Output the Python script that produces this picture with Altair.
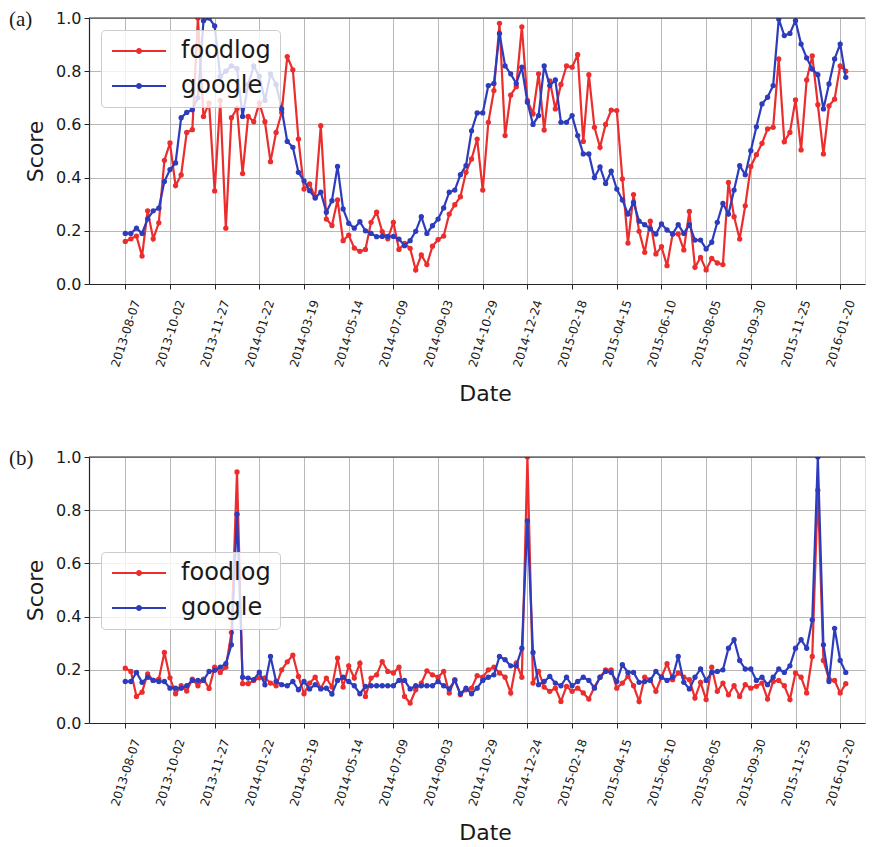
import json
import altair as alt
import pandas as pd

START = "2013-08-07"
SERIES = ["foodlog", "google"]
COLORS = ["#eb2d2d", "#2d3cbc"]
TICK_LABELS = ["2013-08-07", "2013-10-02", "2013-11-27", "2014-01-22", "2014-03-19",
               "2014-05-14", "2014-07-09", "2014-09-03", "2014-10-29", "2014-12-24",
               "2015-02-18", "2015-04-15", "2015-06-10", "2015-08-05", "2015-09-30",
               "2015-11-25", "2016-01-20"]
Y_TICKS = [0.0, 0.2, 0.4, 0.6, 0.8, 1.0]

FOODLOG_A = [0.16, 0.17, 0.18, 0.105, 0.275, 0.17, 0.23, 0.465, 0.53, 0.37,
             0.41, 0.57, 0.58, 1.0, 0.63, 0.68, 0.35, 0.69, 0.21, 0.625,
             0.66, 0.415, 0.63, 0.61, 0.68, 0.61, 0.46, 0.57, 0.645, 0.855,
             0.805, 0.545, 0.357, 0.376, 0.326, 0.595, 0.244, 0.22, 0.316, 0.163,
             0.184, 0.135, 0.123, 0.13, 0.232, 0.27, 0.197, 0.17, 0.232, 0.13,
             0.153, 0.134, 0.053, 0.109, 0.073, 0.142, 0.167, 0.18, 0.263, 0.298,
             0.328, 0.42, 0.47, 0.545, 0.353, 0.608, 0.727, 0.98, 0.558, 0.71,
             0.742, 0.967, 0.69, 0.64, 0.79, 0.579, 0.764, 0.658, 0.75, 0.82,
             0.815, 0.862, 0.536, 0.787, 0.589, 0.514, 0.6, 0.654, 0.652, 0.395,
             0.154, 0.336, 0.198, 0.119, 0.236, 0.113, 0.14, 0.069, 0.188, 0.188,
             0.128, 0.273, 0.063, 0.1, 0.053, 0.096, 0.079, 0.073, 0.382, 0.253,
             0.169, 0.294, 0.442, 0.486, 0.529, 0.583, 0.589, 0.846, 0.535, 0.57,
             0.692, 0.504, 0.767, 0.858, 0.674, 0.489, 0.67, 0.695, 0.82, 0.8]

GOOGLE_A = [0.19, 0.19, 0.21, 0.19, 0.245, 0.275, 0.285, 0.385, 0.43, 0.455,
            0.625, 0.645, 0.655, 0.70, 0.99, 1.0, 0.97, 0.78, 0.80, 0.82,
            0.81, 0.63, 0.75, 0.82, 0.78, 0.69, 0.79, 0.75, 0.658, 0.536,
            0.514, 0.42, 0.388, 0.351, 0.323, 0.345, 0.27, 0.313, 0.442, 0.282,
            0.228, 0.21, 0.234, 0.2, 0.19, 0.178, 0.179, 0.179, 0.179, 0.169,
            0.144, 0.163, 0.198, 0.253, 0.19, 0.219, 0.244, 0.286, 0.345, 0.353,
            0.411, 0.445, 0.576, 0.643, 0.643, 0.746, 0.754, 0.942, 0.82, 0.79,
            0.754, 0.815, 0.683, 0.6, 0.633, 0.82, 0.746, 0.767, 0.608, 0.608,
            0.633, 0.558, 0.489, 0.489, 0.40, 0.44, 0.378, 0.424, 0.357, 0.316,
            0.263, 0.307, 0.236, 0.223, 0.207, 0.188, 0.226, 0.203, 0.188, 0.223,
            0.19, 0.223, 0.165, 0.165, 0.132, 0.157, 0.232, 0.303, 0.263, 0.353,
            0.445, 0.411, 0.501, 0.591, 0.677, 0.702, 0.746, 0.996, 0.934, 0.942,
            0.99, 0.902, 0.85, 0.808, 0.787, 0.658, 0.752, 0.846, 0.902, 0.777]

FOODLOG_B = [0.206, 0.194, 0.10, 0.116, 0.185, 0.16, 0.165, 0.265, 0.17, 0.11,
             0.14, 0.12, 0.165, 0.14, 0.165, 0.13, 0.21, 0.19, 0.21, 0.34,
             0.944, 0.148, 0.148, 0.16, 0.17, 0.17, 0.15, 0.14, 0.20, 0.23,
             0.255, 0.175, 0.11, 0.15, 0.172, 0.13, 0.169, 0.135, 0.244, 0.135,
             0.215, 0.169, 0.225, 0.10, 0.169, 0.181, 0.231, 0.194, 0.188, 0.21,
             0.10, 0.075, 0.125, 0.15, 0.196, 0.181, 0.172, 0.194, 0.113, 0.163,
             0.106, 0.125, 0.131, 0.178, 0.172, 0.20, 0.21, 0.188, 0.172, 0.113,
             0.225, 0.172, 1.0, 0.15, 0.194, 0.135, 0.119, 0.131, 0.081, 0.138,
             0.119, 0.131, 0.113, 0.09, 0.135, 0.172, 0.20, 0.20, 0.131, 0.15,
             0.175, 0.14, 0.081, 0.172, 0.163, 0.119, 0.172, 0.223, 0.163, 0.188,
             0.172, 0.163, 0.094, 0.153, 0.088, 0.21, 0.119, 0.15, 0.106, 0.14,
             0.10, 0.144, 0.131, 0.138, 0.15, 0.09, 0.156, 0.16, 0.14, 0.088,
             0.188, 0.172, 0.113, 0.25, 0.875, 0.235, 0.165, 0.16, 0.113, 0.148]

GOOGLE_B = [0.156, 0.156, 0.19, 0.153, 0.172, 0.16, 0.156, 0.156, 0.131, 0.131,
            0.131, 0.14, 0.16, 0.16, 0.16, 0.194, 0.198, 0.21, 0.223, 0.294,
            0.785, 0.172, 0.169, 0.163, 0.191, 0.144, 0.25, 0.156, 0.144, 0.14,
            0.156, 0.125, 0.156, 0.128, 0.144, 0.128, 0.131, 0.109, 0.16, 0.172,
            0.156, 0.14, 0.11, 0.138, 0.14, 0.14, 0.14, 0.14, 0.14, 0.16,
            0.16, 0.128, 0.14, 0.14, 0.14, 0.14, 0.156, 0.14, 0.128, 0.16,
            0.11, 0.131, 0.11, 0.131, 0.16, 0.172, 0.181, 0.25, 0.238, 0.215,
            0.215, 0.281, 0.76, 0.265, 0.144, 0.156, 0.175, 0.15, 0.14, 0.172,
            0.14, 0.156, 0.172, 0.16, 0.131, 0.172, 0.194, 0.19, 0.156, 0.219,
            0.19, 0.19, 0.153, 0.156, 0.16, 0.194, 0.172, 0.16, 0.172, 0.25,
            0.153, 0.128, 0.172, 0.203, 0.16, 0.19, 0.194, 0.2, 0.281, 0.313,
            0.235, 0.203, 0.203, 0.16, 0.172, 0.144, 0.172, 0.203, 0.19, 0.215,
            0.281, 0.313, 0.281, 0.388, 1.0, 0.294, 0.156, 0.356, 0.235, 0.19]

N = len(FOODLOG_A)
dates = pd.date_range(START, periods=N, freq="7D")
weeks = [int((d - dates[0]).days // 7) for d in dates]
tick_weeks = [int((pd.Timestamp(t) - pd.Timestamp(START)).days // 7) for t in TICK_LABELS]

SPINE = "#262626"
GRID = "#b8b8b8"
TEXT = "#1a1a1a"
FONT = "DejaVu Sans"
PX_PER_WEEK = 5.585
W = 776
H = 266
X0 = -6.5
XDOM = [X0, X0 + W / PX_PER_WEEK]

LINE_PATH = "M-2.7,0L2.7,0"
DOT_PATH = "M0.3,0A0.3,0.3,0,1,1,-0.3,0A0.3,0.3,0,1,1,0.3,0Z"
label_expr = json.dumps(TICK_LABELS) + "[round(datum.value / 8)]"
MARKER_KEYS = [s + " " for s in SERIES]   # separate domain so the marker legend stays apart


def legend_common(legend_y):
    return dict(title=None, orient="none", legendX=12, legendY=legend_y,
                direction="vertical", symbolSize=400, symbolOffset=17, labelOffset=30,
                labelFont=FONT, labelFontSize=24, labelColor=TEXT, labelLimit=400,
                padding=9, rowPadding=11)


def panel(foodlog, google, tag, legend_y):
    df = pd.DataFrame({
        "week": weeks * 2,
        "date": [d.strftime("%Y-%m-%d") for d in dates] * 2,
        "series": [SERIES[0]] * N + [SERIES[1]] * N,
        "marker": [MARKER_KEYS[0]] * N + [MARKER_KEYS[1]] * N,
        "score": list(foodlog) + list(google),
    })
    x = alt.X("week:Q",
              scale=alt.Scale(domain=XDOM, nice=False, zero=False),
              axis=alt.Axis(values=tick_weeks, labelExpr=label_expr, title="Date",
                            titleFont=FONT, titleFontSize=22, titleFontWeight="normal",
                            titleColor=TEXT, titlePadding=15, titleX=396,
                            labelFont=FONT, labelFontSize=12, labelColor=TEXT,
                            labelAngle=-72, labelAlign="right", labelBaseline="middle",
                            labelOffset=10.7, labelPadding=11, labelOverlap=False,
                            labelFlush=False, labelBound=False,
                            tickSize=5, tickColor=SPINE, tickWidth=1,
                            domainColor=SPINE, domainWidth=1.2,
                            grid=True, gridColor=GRID, gridWidth=1))
    y = alt.Y("score:Q",
              scale=alt.Scale(domain=[0, 1], nice=False, zero=True),
              axis=alt.Axis(values=Y_TICKS, format=".1f", title="Score",
                            titleFont=FONT, titleFontSize=22, titleFontWeight="normal",
                            titleColor=TEXT, titlePadding=8,
                            labelFont=FONT, labelFontSize=16, labelColor=TEXT,
                            labelPadding=3, tickSize=5, tickColor=SPINE,
                            domainColor=SPINE, domainWidth=1.2,
                            grid=True, gridColor=GRID, gridWidth=1))
    line_legend = alt.Legend(symbolType=LINE_PATH, symbolStrokeWidth=2.2,
                             fillColor="rgba(255,255,255,0.8)", strokeColor="#cccccc",
                             cornerRadius=4, zindex=1, **legend_common(legend_y))
    dot_legend = alt.Legend(symbolType=DOT_PATH, symbolStrokeWidth=0, symbolOpacity=1,
                            labelOpacity=0, zindex=2, **legend_common(legend_y))
    color = alt.Color("series:N", scale=alt.Scale(domain=SERIES, range=COLORS),
                      legend=line_legend)
    fill = alt.Fill("marker:N", scale=alt.Scale(domain=MARKER_KEYS, range=COLORS),
                    legend=dot_legend)
    layers = []
    for s in SERIES:
        b = alt.Chart(df).transform_filter(alt.datum.series == s)
        layers.append(b.mark_line(strokeWidth=2.2, clip=True).encode(x=x, y=y, color=color))
        layers.append(b.mark_circle(size=28, opacity=1, clip=True).encode(x=x, y=y, fill=fill))
    top = alt.Chart(pd.DataFrame({"v": [1]})).mark_rule(
        color=SPINE, strokeWidth=1.2).encode(y=alt.datum(1.0))
    label = alt.Chart(pd.DataFrame({"t": [tag]})).mark_text(
        font="Liberation Serif", fontSize=21, align="left", baseline="middle",
        color=TEXT).encode(text="t:N", x=alt.value(-80), y=alt.value(2))
    return alt.layer(*layers, top, label).properties(width=W, height=H)


pa = panel(FOODLOG_A, GOOGLE_A, "(a)", 12)
pb = panel(FOODLOG_B, GOOGLE_B, "(b)", 95)

chart = alt.vconcat(pa, pb, spacing=42).resolve_scale(
    color="independent", fill="independent").properties(
    padding={"left": 0, "top": 0, "right": 0, "bottom": 0}
).configure_view(stroke=None).configure(background="white")

chart.save("out.html", embed_options={"renderer": "svg", "actions": False})
